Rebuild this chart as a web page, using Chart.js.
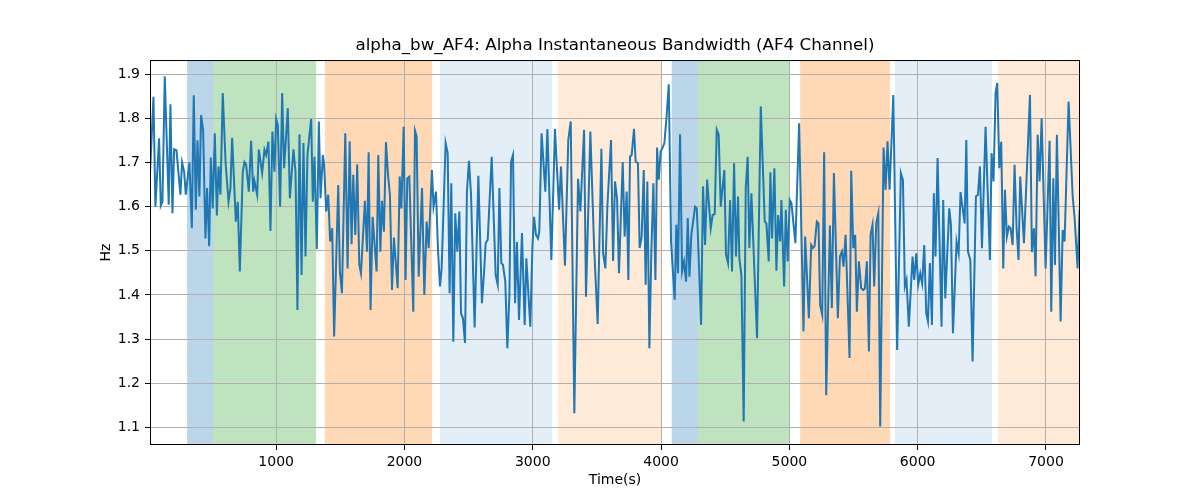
<!DOCTYPE html>
<html lang="en">
<head>
    <meta charset="UTF-8">
    <title>alpha_bw_AF4</title>
    <script src="https://cdn.jsdelivr.net/npm/chart.js"></script>
    <style>
        body { margin: 0; background: #fff; }
        #wrap { width: 1200px; height: 500px; }
    </style>
</head>
<body>
    <div id="wrap"><canvas id="bw-chart" width="1200" height="500"></canvas></div>

    <script>
        // Time (s) of each sample
        const times = [
            17,44,59,88,101,114,132,163,176,192,205,223,254,267,283,296,324,343,358,374,387,402,415,431,449,462,478,491,506,522,538,551,566,584,606,629,644,657,686,701,717,740,
            753,766,787,805,821,831,852,865,891,909,922,940,956,971,987,1000,1013,1031,1047,1062,1091,1107,1135,1151,1166,1182,1198,1213,1229,1244,1273,1286,1299,1317,1333,1346,1364,1374,1390,1406,1421,1437,1452,
            1484,1497,1513,1539,1557,1573,1588,1601,1617,1632,1648,1661,1692,1708,1721,1736,1752,1783,1796,1812,1825,1840,1856,1872,1887,1903,1918,1947,1963,1976,1994,2009,2022,2038,2069,2082,2095,2111,2137,2155,2173,2189,
            2214,2227,2246,2261,2277,2290,2321,2337,2352,2365,2381,2396,2412,2428,2441,2456,2472,2487,2503,2519,2547,2576,2604,2620,2633,2649,2680,2711,2727,2740,2755,2768,2786,2802,2818,2831,2846,2862,2877,2893,
            2916,2937,2950,2981,2997,3010,3025,3041,3051,3069,3098,3114,3145,3173,3205,3220,3251,3277,3296,3324,3353,3371,3400,3415,3449,3478,3506,3535,3548,3566,3582,3610,3626,3641,
            3657,3672,3701,3716,3732,3745,3758,3771,3789,3802,3820,3833,3849,3865,3880,3893,3909,3924,3940,3956,3969,3982,3997,4010,4026,4044,4060,4078,4106,4119,4132,4148,4164,4179,4195,4208,4221,4236,4265,4278,4286,4312,4327,4343,4359,
            4387,4402,4418,4434,4449,4465,4493,4506,4522,4538,4553,4569,4584,4600,4610,4626,4644,4660,4675,4688,4704,4748,4777,4808,4821,4839,4852,4865,4883,4899,4912,4928,4938,4959,4972,4987,5003,5016,5047,5076,
            5110,5123,5152,5170,5183,5196,5214,5227,5240,5256,5271,5287,5316,5331,5347,5378,5394,5409,5422,5438,5469,5482,5498,5513,5526,5542,5560,5576,5589,5604,5620,5633,5648,5661,5677,5693,5708,5734,5750,5765,5781,5810,
            5840,5869,5885,5900,5913,5931,5960,5973,5989,6004,6020,6035,6051,6067,6080,6095,6111,6126,6139,6155,6186,6199,6215,6246,6259,6275,6303,6319,6334,6366,6379,6392,6410,6428,6454,6470,6485,6501,6529,
            6563,6576,6591,6607,6620,6636,6651,6667,6680,6695,6711,6724,6740,6755,6771,6786,6799,6828,6875,6890,6906,6919,6935,6950,6966,6997,7028,7041,7057,7070,7085,7114,7130,7145,7176,7208,7223,7246,7262
        ];

        // Alpha bandwidth (Hz) at each time above
        const hz = [
            1.675,1.849,1.600,1.755,1.602,1.611,1.895,1.604,1.832,1.585,1.730,1.728,1.627,1.700,1.679,1.627,1.700,1.551,1.852,1.593,1.750,1.623,1.807,1.774,1.528,1.642,1.510,1.711,1.596,1.766,1.580,1.691,1.627,1.857,1.700,1.611,1.642,1.756,1.566,1.611,1.453,1.679,
            1.701,1.695,1.634,1.749,1.634,1.658,1.627,1.729,1.676,1.729,1.717,1.747,1.545,1.770,1.679,1.799,1.785,1.600,1.857,1.687,1.823,1.619,1.730,1.679,1.366,1.764,1.445,1.744,1.487,1.717,1.799,1.611,1.713,1.504,1.793,1.619,1.717,1.695,1.589,1.627,1.521,1.551,1.306,
            1.649,1.453,1.404,1.766,1.460,1.748,1.515,1.672,1.536,1.696,1.469,1.449,1.613,1.498,1.723,1.366,1.577,1.453,1.717,1.498,1.613,1.543,1.746,1.672,1.627,1.411,1.530,1.415,1.668,1.596,1.781,1.434,1.664,1.668,1.362,1.772,1.759,1.441,1.642,1.400,1.566,1.506,
            1.683,1.600,1.634,1.506,1.419,1.460,1.744,1.721,1.404,1.653,1.294,1.585,1.498,1.589,1.358,1.347,1.291,1.634,1.704,1.627,1.326,1.670,1.381,1.449,1.517,1.525,1.713,1.445,1.423,1.642,1.472,1.468,1.430,1.279,1.400,1.702,1.717,1.381,1.520,1.343,
            1.540,1.332,1.483,1.328,1.506,1.577,1.536,1.528,1.543,1.766,1.634,1.776,1.479,1.776,1.593,1.691,1.466,1.751,1.793,1.132,1.663,1.589,1.774,1.396,1.770,1.510,1.334,1.731,1.495,1.460,1.604,1.751,1.477,1.657,
            1.619,1.449,1.701,1.532,1.634,1.434,1.713,1.717,1.776,1.702,1.698,1.506,1.532,1.683,1.423,1.657,1.279,1.495,1.653,1.434,1.734,1.661,1.725,1.732,1.744,1.808,1.877,1.521,1.389,1.559,1.449,1.764,1.453,1.475,1.430,1.574,1.441,1.536,1.600,1.596,1.543,1.332,1.646,1.513,1.661,
            1.551,1.581,1.583,1.774,1.763,1.600,1.683,1.491,1.472,1.615,1.453,1.698,1.487,1.623,1.483,1.445,1.113,1.642,1.713,1.506,1.630,1.302,1.827,1.566,1.562,1.476,1.678,1.528,1.687,1.455,1.581,1.521,1.615,1.419,1.593,1.476,1.615,1.608,1.517,1.789,
            1.317,1.532,1.347,1.513,1.506,1.510,1.566,1.562,1.377,1.355,1.723,1.173,1.557,1.370,1.676,1.347,1.487,1.498,1.464,1.536,1.257,1.681,1.506,1.536,1.362,1.476,1.415,1.411,1.415,1.476,1.272,1.536,1.559,1.419,1.562,1.585,1.102,1.734,1.638,1.748,1.638,1.853,
            1.275,1.676,1.660,1.419,1.434,1.328,1.487,1.434,1.494,1.423,1.449,1.426,1.513,1.358,1.340,1.472,1.332,1.630,1.487,1.710,1.328,1.615,1.392,1.596,1.559,1.313,1.521,1.494,1.633,1.562,1.751,1.498,1.479,1.249,1.623,1.627,1.691,1.506,1.781,
            1.479,1.721,1.657,1.857,1.880,1.687,1.747,1.460,1.638,1.532,1.555,1.551,1.513,1.695,1.551,1.479,1.668,1.517,1.853,1.497,1.551,1.442,1.763,1.657,1.800,1.460,1.749,1.362,1.664,1.468,1.763,1.340,1.547,1.521,1.838,1.623,1.574,1.460,1.593
        ];

        // shaded stages (seconds)
        const spanStart = [306, 509, 1380, 2277, 3197, 4083, 4291, 5084, 5822, 6628];
        const spanEnd   = [509, 1312, 2216, 3150, 4000, 4291, 5004, 5784, 6579, 7265];
        const spanKind  = ['blue', 'green', 'orange', 'paleBlue', 'paleOrange',
                           'blue', 'green', 'orange', 'paleBlue', 'paleOrange'];

        const xTicks = [1000, 2000, 3000, 4000, 5000, 6000, 7000];
        const yTicks = [1.1, 1.2, 1.3, 1.4, 1.5, 1.6, 1.7, 1.8, 1.9];

        const spanColors = {
            blue: 'rgba(31, 119, 180, 0.3)',
            green: 'rgba(44, 160, 44, 0.3)',
            orange: 'rgba(255, 127, 14, 0.3)',
            paleBlue: 'rgba(31, 119, 180, 0.12)',
            paleOrange: 'rgba(255, 127, 14, 0.16)'
        };

        const FONT = 'DejaVu Sans';

        // background bands, drawn before the grid
        const spanPlugin = {
            id: 'spans',
            beforeDraw(chart) {
                const { ctx, chartArea, scales } = chart;
                ctx.save();
                spanStart.forEach((s, i) => {
                    const x0 = scales.x.getPixelForValue(s);
                    const x1 = scales.x.getPixelForValue(spanEnd[i]);
                    ctx.fillStyle = spanColors[spanKind[i]];
                    ctx.fillRect(x0, chartArea.top, x1 - x0, chartArea.bottom - chartArea.top);
                });
                ctx.restore();
            },
            afterDraw(chart) {
                // matplotlib style frame on all four sides
                const { ctx, chartArea } = chart;
                ctx.save();
                ctx.strokeStyle = '#000';
                ctx.lineWidth = 1;
                ctx.strokeRect(chartArea.left + 0.5, chartArea.top + 0.5,
                    chartArea.right - chartArea.left - 1, chartArea.bottom - chartArea.top - 1);
                ctx.restore();
            }
        };

        const ctx = document.getElementById('bw-chart').getContext('2d');
        new Chart(ctx, {
            type: 'line',
            data: {
                datasets: [{
                    label: 'alpha_bw_AF4',
                    data: times.map((t, i) => ({ x: t, y: hz[i] })),
                    borderColor: '#1f77b4',
                    borderWidth: 2,
                    pointRadius: 0,
                    tension: 0,
                    fill: false
                }]
            },
            options: {
                responsive: false,
                animation: false,
                layout: { padding: { left: 94, right: 120, top: 0, bottom: 7 } },
                scales: {
                    x: {
                        type: 'linear',
                        min: 17,
                        max: 7265,
                        afterBuildTicks: s => { s.ticks = xTicks.map(v => ({ value: v })); },
                        afterFit: s => { s.height = 48; },
                        grid: { color: '#b0b0b0', lineWidth: 1, tickLength: 5, tickColor: '#000' },
                        border: { display: false },
                        ticks: { color: '#000', padding: 4, maxRotation: 0, callback: v => String(v), font: { family: FONT, size: 14 } },
                        title: { display: true, text: 'Time(s)', color: '#000', padding: 4, font: { family: FONT, size: 14 } }
                    },
                    y: {
                        type: 'linear',
                        min: 1.06,
                        max: 1.932,
                        afterBuildTicks: s => { s.ticks = yTicks.map(v => ({ value: v })); },
                        afterFit: s => { s.width = 56; },
                        grid: { color: '#b0b0b0', lineWidth: 1, tickLength: 5, tickColor: '#000' },
                        border: { display: false },
                        ticks: { color: '#000', padding: 5, callback: v => v.toFixed(1), font: { family: FONT, size: 14 } },
                        title: { display: true, text: 'Hz', color: '#000', padding: 4, font: { family: FONT, size: 14 } }
                    }
                },
                plugins: {
                    legend: { display: false },
                    tooltip: { enabled: false },
                    title: {
                        display: true,
                        fullSize: false,
                        text: 'alpha_bw_AF4: Alpha Instantaneous Bandwidth (AF4 Channel)',
                        color: '#000',
                        font: { family: FONT, size: 16.7, weight: 'normal' },
                        padding: { top: 36, bottom: 4 }
                    }
                }
            },
            plugins: [spanPlugin]
        });
    </script>
</body>
</html>
